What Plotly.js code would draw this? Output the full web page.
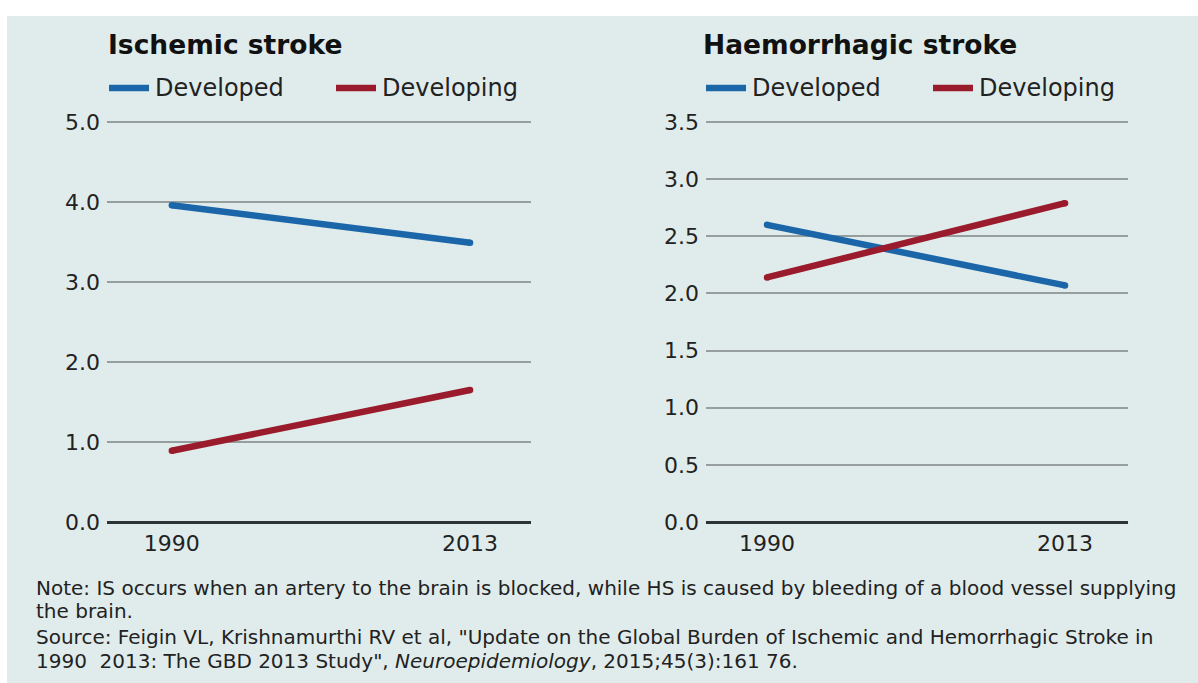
<!DOCTYPE html>
<html>
<head>
<meta charset="utf-8">
<script src="https://cdn.plot.ly/plotly-3.0.1.min.js"></script>
<style>html,body{margin:0;padding:0;background:#fff;}#chart{width:1198px;height:683px;}</style>
</head>
<body>
<div id="chart"></div>
<script>
// ---- data ----
const years = [1990, 2013];
const ischemicDeveloped = [3.96, 3.49];
const ischemicDeveloping = [0.89, 1.65];
const haemDeveloped = [2.60, 2.07];
const haemDeveloping = [2.14, 2.79];
const seriesNames = ["Developed", "Developing"];
const panelTitles = ["Ischemic stroke", "Haemorrhagic stroke"];
const noteLines = [
  "Note: IS occurs when an artery to the brain is blocked, while HS is caused by bleeding of a blood vessel supplying",
  "the brain.",
  "Source: Feigin VL, Krishnamurthi RV et al, \"Update on the Global Burden of Ischemic and Hemorrhagic Stroke in",
  "1990  2013: The GBD 2013 Study\", <i>Neuroepidemiology</i>, 2015;45(3):161 76."
];

const W = 1198, H = 683;
const BLUE = '#1b66a9', RED = '#9a1b2b';
const FONT = 'DejaVu Sans';
const px = x => x / W;
const py = y => 1 - y / H;

function trace(y, color, xa, ya, name) {
  return {x: years, y: y, type: 'scatter', mode: 'lines+markers', name: name,
    line: {color: color, width: 6.5}, marker: {color: color, size: 6.5},
    xaxis: xa, yaxis: ya, showlegend: false, hoverinfo: 'x+y'};
}

const data = [
  trace(ischemicDeveloped, BLUE, 'x', 'y', seriesNames[0]),
  trace(ischemicDeveloping, RED, 'x', 'y', seriesNames[1]),
  trace(haemDeveloped, BLUE, 'x2', 'y2', seriesNames[0]),
  trace(haemDeveloping, RED, 'x2', 'y2', seriesNames[1])
];

const tickFont = {family: FONT, size: 22, color: '#222'};
function xax(domain, range, anchor) {
  return {domain: domain, range: range, tickvals: years, ticktext: years.map(String),
    anchor: anchor, showgrid: false, zeroline: false, showline: false, ticks: '',
    tickfont: tickFont, ticklabelstandoff: 6, fixedrange: true};
}
function yax(domain, range, dtick, anchor) {
  return {domain: domain, range: range, dtick: dtick, tick0: 0, tickformat: '.1f',
    anchor: anchor, showgrid: true, gridcolor: '#979e9e', gridwidth: 2,
    zeroline: true, zerolinecolor: '#2e3333', zerolinewidth: 3, showline: false,
    ticks: '', tickfont: tickFont, ticklabelstandoff: 6, fixedrange: true};
}

const shapes = [
  {type: 'rect', xref: 'paper', yref: 'paper', x0: px(7), x1: 1, y0: 0, y1: py(16),
   fillcolor: '#e0ecec', line: {width: 0}, layer: 'below'}
];
const annotations = [];

function addLegend(y, items) {
  items.forEach(it => {
    shapes.push({type: 'line', xref: 'paper', yref: 'paper', x0: px(it.lx0), x1: px(it.lx1),
      y0: py(y), y1: py(y), line: {color: it.color, width: 6.5}});
    annotations.push({xref: 'paper', yref: 'paper', x: px(it.tx), y: py(y), xanchor: 'left',
      yanchor: 'middle', showarrow: false, text: it.text,
      font: {family: FONT, size: 24, color: '#222'}});
  });
}
addLegend(88, [
  {lx0: 109, lx1: 149, tx: 153, color: BLUE, text: seriesNames[0]},
  {lx0: 336, lx1: 376, tx: 380, color: RED, text: seriesNames[1]}
]);
addLegend(88, [
  {lx0: 706, lx1: 746, tx: 750, color: BLUE, text: seriesNames[0]},
  {lx0: 933, lx1: 973, tx: 977, color: RED, text: seriesNames[1]}
]);

[[106, panelTitles[0]], [701, panelTitles[1]]].forEach(([x, t]) => {
  annotations.push({xref: 'paper', yref: 'paper', x: px(x), y: py(44), xanchor: 'left',
    yanchor: 'middle', showarrow: false, text: '<b>' + t + '</b>',
    font: {family: FONT, size: 26.5, color: '#111'}});
});

const noteY = [588, 611, 637, 661];
noteLines.forEach((t, i) => {
  annotations.push({xref: 'paper', yref: 'paper', x: px(34), y: py(noteY[i]), xanchor: 'left',
    yanchor: 'middle', showarrow: false, text: t,
    font: {family: FONT, size: 20, color: '#222'}});
});

const layout = {
  width: W, height: H,
  margin: {l: 0, r: 0, t: 0, b: 0},
  paper_bgcolor: '#ffffff', plot_bgcolor: 'rgba(0,0,0,0)',
  showlegend: false,
  xaxis: xax([px(107), px(531)], [1985.0, 2017.7], 'y'),
  yaxis: yax([py(522), py(119.6)], [0, 5.03], 1, 'x'),
  xaxis2: xax([px(706), px(1128)], [1985.29, 2017.86], 'y2'),
  yaxis2: yax([py(522), py(119.7)], [0, 3.52], 0.5, 'x2'),
  shapes: shapes,
  annotations: annotations
};

Plotly.newPlot('chart', data, layout, {displayModeBar: false, staticPlot: true});
</script>
</body>
</html>
